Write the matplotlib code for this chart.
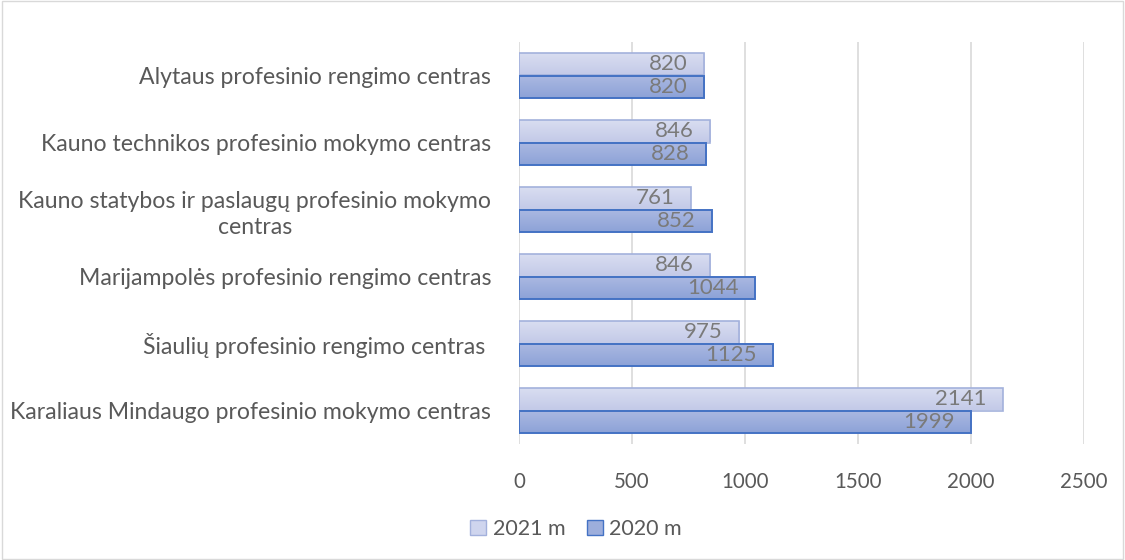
import numpy as np
import matplotlib.pyplot as plt
from matplotlib.patches import Rectangle, Patch

# data
centers = ["Alytaus profesinio rengimo centras",
           "Kauno technikos profesinio mokymo centras",
           "Kauno statybos ir paslaugų profesinio mokymo\ncentras",
           "Marijampolės profesinio rengimo centras",
           "Šiaulių profesinio rengimo centras ",
           "Karaliaus Mindaugo profesinio mokymo centras"]
v2021 = [820, 846, 761, 846, 975, 2141]
v2020 = [820, 828, 852, 1044, 1125, 1999]
xticks = [0, 500, 1000, 1500, 2000, 2500]

plt.rcParams['font.family'] = ['Lato', 'DejaVu Sans']

fig = plt.figure(figsize=(11.25, 5.6), dpi=100)
ax = fig.add_axes([519 / 1125, 1 - 444 / 560, (1084 - 519) / 1125, (444 - 42) / 560])

n = len(centers)
ypos = np.arange(n)
h = 0.33


def grad_bars(y, vals, c_top, c_bot, edge, lw):
    bars = ax.barh(y, vals, height=h, color='none', edgecolor=edge, linewidth=lw, zorder=3)
    cmap = plt.matplotlib.colors.LinearSegmentedColormap.from_list('g', [c_top, c_bot])
    for b in bars:
        x0, y0 = b.get_x(), b.get_y()
        w, hh = b.get_width(), b.get_height()
        grad = np.linspace(0, 1, 50).reshape(-1, 1)
        im = ax.imshow(grad, extent=(x0, x0 + w, y0 + hh, y0), aspect='auto', cmap=cmap,
                       origin='upper', zorder=2)
        im.set_clip_path(Rectangle((x0, y0), w, hh, transform=ax.transData))
    return bars


b21 = grad_bars(ypos - h / 2, v2021, '#DADEF1', '#C3CAE8', '#A3B1DC', 1.2)
b20 = grad_bars(ypos + h / 2, v2020, '#ABB9E2', '#8DA2D7', '#4472C4', 1.4)

for bars, vals in [(b21, v2021), (b20, v2020)]:
    for b, v in zip(bars, vals):
        ax.text(v - 72, b.get_y() + b.get_height() / 2, str(v), ha='right', va='center',
                fontsize=16, color='#7a7a7a', zorder=4)

ax.set_xlim(0, 2500)
ax.set_ylim(n - 0.5, -0.5)
ax.set_xticks(xticks)
ax.set_yticks(ypos)
ax.set_yticklabels(centers, fontsize=16.6, color='#595959', ha='right', multialignment='center',
                   linespacing=1.3)
ax.tick_params(axis='y', length=0, pad=20)
ax.tick_params(axis='x', length=0, labelsize=14.8, labelcolor='#595959', pad=20)
ax.grid(axis='x', color='#d9d9d9', linewidth=1.2, zorder=0)
ax.set_axisbelow(True)
for s in ax.spines.values():
    s.set_visible(False)

handles = [Patch(facecolor='#CFD5EE', edgecolor='#A3B1DC', label='2021 m'),
           Patch(facecolor='#9DAEDC', edgecolor='#4472C4', label='2020 m')]
fig.legend(handles=handles, loc='center', bbox_to_anchor=(576 / 1125, 1 - 529 / 560), ncol=2,
           frameon=False, fontsize=15.5, labelcolor='#595959', handlelength=0.75,
           handleheight=0.75, handletextpad=0.3, columnspacing=1.0)

fig.patches.append(Rectangle((0.002, 0.002), 0.996, 0.996, transform=fig.transFigure,
                             fill=False, edgecolor='#d9d9d9', linewidth=1))

plt.savefig('out.png', dpi=100)
